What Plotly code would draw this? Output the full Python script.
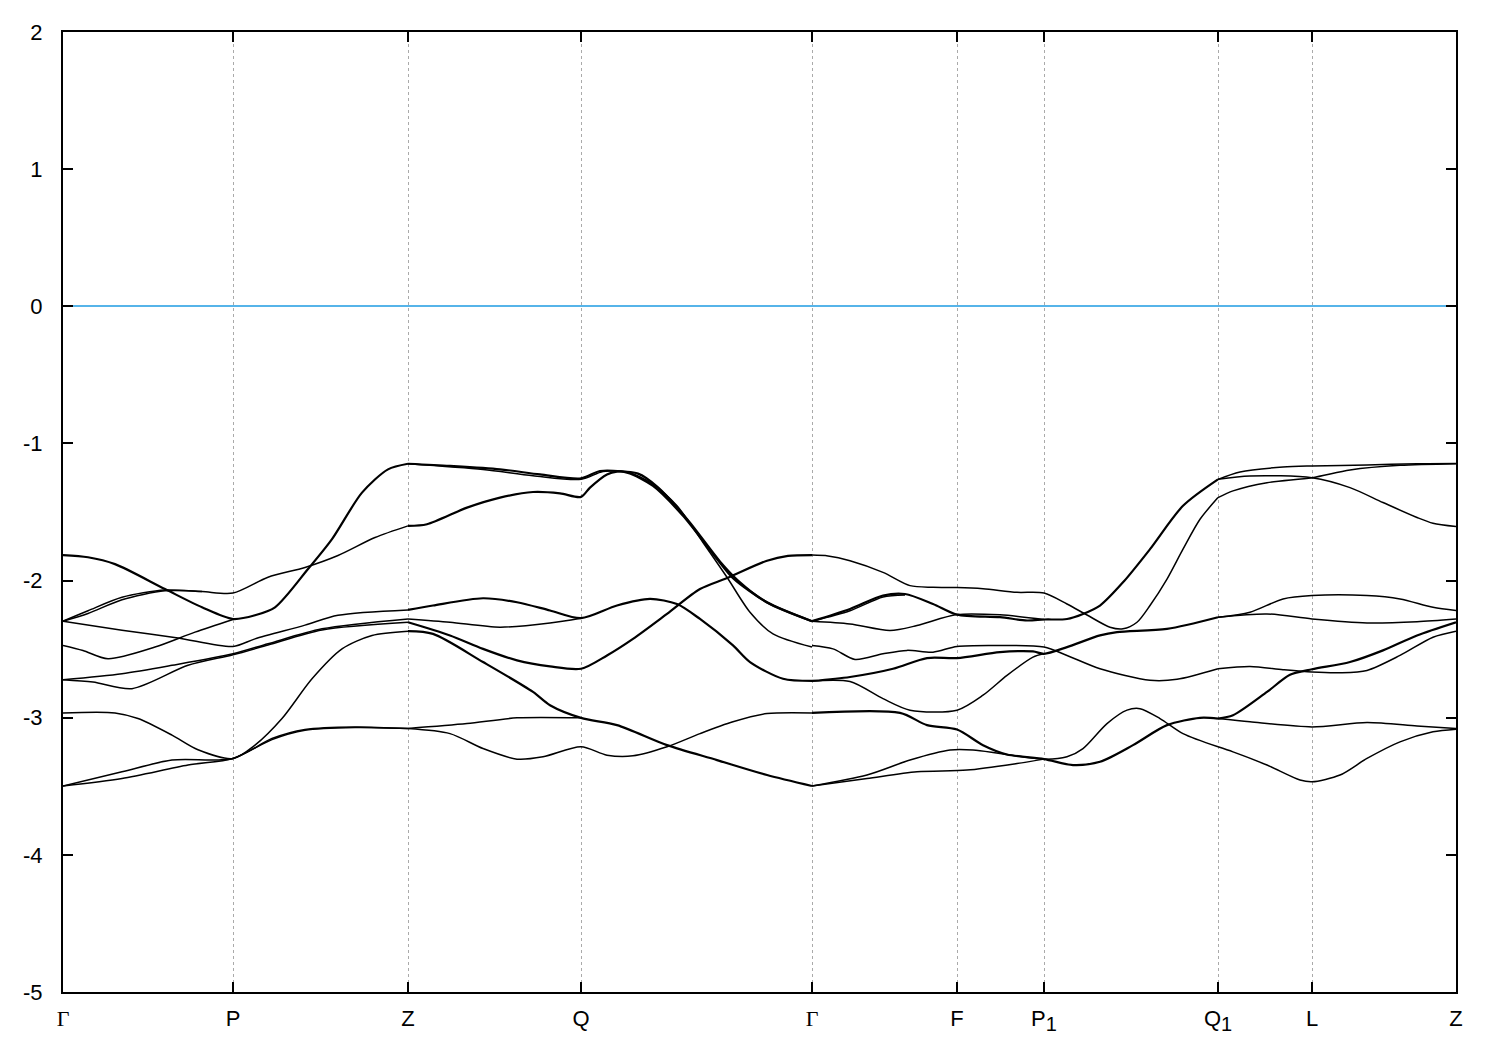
import plotly.graph_objects as go

# High-symmetry path
kpoint_labels = ["Γ", "P", "Z", "Q", "Γ", "F", "P<sub><span style=\"font-size:20px\">1</span></sub>",
                 "Q<sub><span style=\"font-size:20px\">1</span></sub>", "L", "Z"]
kpoint_pos = [0.0, 1.70, 3.45, 5.18, 7.49, 8.94, 9.81, 11.55, 12.49, 13.93]
energy_ticks = [-5, -4, -3, -2, -1, 0, 1, 2]
energy_tick_text = ["-5", "-4", "-3", "-2", "-1", "0", "1", "2"]

# ---- Γ - P - Z ----
c1_k = [0, 0.25, 0.52, 1.02, 1.39, 1.70, 1.92, 2.12, 2.45, 2.69, 2.99, 3.25, 3.45]
c1_e = [-1.814, -1.83, -1.880, -2.062, -2.195, -2.280, -2.253, -2.195, -1.916, -1.698, -1.359, -1.189, -1.148]
c2_k = [0, 0.25, 0.59, 1.02, 1.39, 1.70, 2.05, 2.42, 2.75, 3.12, 3.45]
c2_e = [-2.296, -2.22, -2.122, -2.069, -2.08, -2.091, -1.976, -1.904, -1.817, -1.686, -1.601]
c2b_k = [0, 0.25, 0.59, 1.02, 1.39]
c2b_e = [-2.296, -2.24, -2.140, -2.075, -2.08]
c3_k = [0, 0.59, 1.15, 1.70, 1.92, 2.42, 2.75, 3.45]
c3_e = [-2.296, -2.362, -2.418, -2.480, -2.425, -2.325, -2.253, -2.214]
c4_k = [0, 0.2, 0.45, 0.92, 1.32, 1.70]
c4_e = [-2.473, -2.51, -2.570, -2.485, -2.376, -2.284]
c5_k = [0, 0.59, 1.09, 1.70, 2.05, 2.59, 3.45]
c5_e = [-2.723, -2.679, -2.618, -2.534, -2.461, -2.352, -2.280]
c6_k = [0, 0.3, 0.69, 1.25, 1.70, 2.05, 2.59, 3.45]
c6_e = [-2.723, -2.74, -2.788, -2.618, -2.541, -2.470, -2.360, -2.304]
c7_k = [0, 0.52, 0.75, 1.09, 1.35, 1.70, 1.92, 2.19, 2.49, 2.79, 3.09, 3.45]
c7_e = [-2.965, -2.965, -3.006, -3.127, -3.234, -3.297, -3.200, -3.006, -2.716, -2.498, -2.400, -2.369]
c8a_k = [0, 0.59, 1.09, 1.70, 2.09, 2.42, 2.92, 3.45]
c8a_e = [-3.498, -3.394, -3.309, -3.297, -3.152, -3.086, -3.067, -3.079]
c8b_k = [0, 0.59, 1.25, 1.70, 2.09, 2.42, 2.92, 3.45]
c8b_e = [-3.498, -3.443, -3.345, -3.297, -3.160, -3.092, -3.072, -3.079]

# ---- Z - Q - Γ ----
d1_k = [3.45, 3.87, 4.37, 4.77, 5.18, 5.37, 5.64, 5.90, 6.20, 6.54, 6.70, 7.04, 7.49]
d1_e = [-1.148, -1.164, -1.189, -1.226, -1.255, -1.201, -1.213, -1.310, -1.528, -1.843, -1.982, -2.158, -2.296]
d2_k = [3.45, 4.20, 4.70, 5.18, 5.40, 5.64, 5.90, 6.14, 6.40, 6.64, 6.87, 7.10, 7.49]
d2_e = [-1.148, -1.190, -1.235, -1.262, -1.205, -1.206, -1.298, -1.455, -1.722, -1.976, -2.231, -2.389, -2.485]
d3_k = [3.45, 3.64, 4.04, 4.37, 4.70, 4.97, 5.18, 5.27, 5.44, 5.54, 5.75, 5.95, 6.25, 6.58, 6.75, 7.04, 7.49]
d3_e = [-1.601, -1.589, -1.468, -1.395, -1.354, -1.364, -1.390, -1.322, -1.226, -1.206, -1.220, -1.320, -1.560, -1.870, -2.000, -2.160, -2.296]
d4_k = [3.45, 3.70, 4.20, 4.54, 4.87, 5.18, 5.54, 5.87, 6.14, 6.37, 6.70, 6.87, 7.20, 7.49]
d4_e = [-2.214, -2.182, -2.129, -2.158, -2.218, -2.274, -2.182, -2.134, -2.171, -2.280, -2.473, -2.594, -2.716, -2.732]
d5_k = [3.45, 3.87, 4.37, 4.87, 5.18]
d5_e = [-2.280, -2.304, -2.340, -2.309, -2.274]
d6_k = [3.45, 3.87, 4.20, 4.54, 4.87, 5.18, 5.44, 5.70, 6.04, 6.37, 6.64, 7.04, 7.25, 7.49]
d6_e = [-2.304, -2.400, -2.498, -2.582, -2.626, -2.643, -2.546, -2.425, -2.243, -2.062, -1.982, -1.855, -1.820, -1.814]
d7_k = [3.45, 3.70, 4.20, 4.70, 4.87, 5.18, 5.54, 6.04, 6.54, 7.04, 7.49]
d7_e = [-2.369, -2.389, -2.594, -2.812, -2.909, -3.001, -3.054, -3.200, -3.309, -3.418, -3.498]
d8_k = [3.45, 4.04, 4.54, 5.18]
d8_e = [-3.079, -3.043, -3.001, -3.001]
d9_k = [3.45, 3.87, 4.20, 4.54, 4.80, 5.18, 5.44, 5.70, 6.04, 6.37, 6.70, 7.04, 7.49]
d9_e = [-3.079, -3.116, -3.225, -3.302, -3.285, -3.212, -3.273, -3.278, -3.212, -3.116, -3.030, -2.970, -2.965]

# ---- Γ - F - P1 - Q1 ----
e1_k = [7.49, 7.65, 7.87, 8.20, 8.47, 8.70, 8.94, 9.20, 9.54, 9.81, 10.04, 10.24, 10.47, 10.60, 10.74, 10.87, 11.04, 11.20, 11.37, 11.55]
e1_e = [-1.814, -1.820, -1.855, -1.940, -2.037, -2.049, -2.051, -2.060, -2.086, -2.091, -2.171, -2.251, -2.340, -2.352, -2.304, -2.182, -1.989, -1.771, -1.553, -1.395]
e2a_k = [7.49, 7.87, 8.20, 8.42, 8.70, 8.94, 9.37, 9.64, 9.81, 10.04, 10.20, 10.37, 10.60, 10.87, 11.20, 11.55]
e2a_e = [-2.296, -2.207, -2.109, -2.098, -2.171, -2.248, -2.267, -2.291, -2.284, -2.280, -2.243, -2.182, -2.013, -1.771, -1.455, -1.262]
e2b_k = [7.49, 7.87, 8.20, 8.42]
e2b_e = [-2.296, -2.220, -2.120, -2.105]
e3_k = [7.49, 7.87, 8.27, 8.54, 8.94, 9.37, 9.81]
e3_e = [-2.296, -2.316, -2.364, -2.328, -2.248, -2.250, -2.284]
e4_k = [7.49, 7.70, 7.92, 8.20, 8.44, 8.70, 8.94, 9.37, 9.81, 10.04, 10.37, 10.87, 11.14, 11.55]
e4_e = [-2.473, -2.498, -2.575, -2.534, -2.509, -2.522, -2.480, -2.473, -2.485, -2.546, -2.643, -2.727, -2.720, -2.643]
e5_k = [7.49, 7.87, 8.30, 8.64, 8.94, 9.37, 9.70, 9.81, 10.04, 10.37, 10.54, 11.04, 11.55]
e5_e = [-2.732, -2.703, -2.643, -2.565, -2.565, -2.522, -2.517, -2.534, -2.485, -2.400, -2.376, -2.352, -2.267]
e6_k = [7.49, 7.87, 8.20, 8.47, 8.94, 9.20, 9.44, 9.70, 9.81]
e6_e = [-2.732, -2.736, -2.861, -2.945, -2.945, -2.836, -2.691, -2.558, -2.534]
e7_k = [7.49, 8.37, 8.64, 8.94, 9.20, 9.44, 9.81, 10.10, 10.37, 10.70, 11.04, 11.37, 11.55]
e7_e = [-2.965, -2.965, -3.054, -3.086, -3.200, -3.268, -3.302, -3.345, -3.321, -3.200, -3.054, -3.001, -3.006]
e8_k = [7.49, 8.04, 8.47, 8.87, 9.10, 9.37, 9.81, 10.04, 10.20, 10.44, 10.64, 10.77, 10.97, 11.20, 11.55]
e8_e = [-3.498, -3.418, -3.309, -3.236, -3.236, -3.261, -3.302, -3.285, -3.225, -3.043, -2.945, -2.934, -3.006, -3.116, -3.212]
e9_k = [7.49, 8.04, 8.54, 9.04, 9.54, 9.81]
e9_e = [-3.498, -3.443, -3.394, -3.382, -3.334, -3.302]

# ---- Q1 - L - Z ----
f1_k = [11.55, 11.77, 12.20, 12.49, 13.04, 13.54, 13.93]
f1_e = [-1.262, -1.208, -1.172, -1.164, -1.157, -1.148, -1.146]
f2_k = [11.55, 11.87, 12.49, 12.87, 13.20, 13.54, 13.70, 13.93]
f2_e = [-1.262, -1.237, -1.250, -1.322, -1.431, -1.540, -1.582, -1.606]
f3_k = [11.55, 11.70, 12.04, 12.49, 12.87, 13.37, 13.93]
f3_e = [-1.395, -1.346, -1.286, -1.250, -1.194, -1.160, -1.148]
f4_k = [11.55, 11.87, 12.20, 12.49, 13.04, 13.37, 13.70, 13.93]
f4_e = [-2.267, -2.231, -2.134, -2.109, -2.109, -2.134, -2.195, -2.218]
f5_k = [11.55, 12.04, 12.49, 13.04, 13.54, 13.93]
f5_e = [-2.267, -2.243, -2.280, -2.309, -2.300, -2.280]
f6_k = [11.55, 11.87, 12.20, 12.49, 12.77, 13.04, 13.37, 13.70, 13.93]
f6_e = [-2.643, -2.626, -2.650, -2.667, -2.672, -2.655, -2.546, -2.413, -2.369]
f7_k = [11.55, 11.70, 12.04, 12.27, 12.49, 12.87, 13.20, 13.54, 13.93]
f7_e = [-3.006, -2.982, -2.812, -2.687, -2.647, -2.594, -2.509, -2.400, -2.304]
f8_k = [11.55, 11.87, 12.49, 13.04, 13.54, 13.93]
f8_e = [-3.006, -3.030, -3.067, -3.035, -3.060, -3.079]
f9_k = [11.55, 11.70, 12.04, 12.37, 12.49, 12.77, 13.04, 13.37, 13.70, 13.93]
f9_e = [-3.212, -3.249, -3.345, -3.454, -3.467, -3.418, -3.297, -3.176, -3.103, -3.084]

curves = [
    (c1_k, c1_e), (c2_k, c2_e), (c2b_k, c2b_e), (c3_k, c3_e), (c4_k, c4_e),
    (c5_k, c5_e), (c6_k, c6_e), (c7_k, c7_e), (c8a_k, c8a_e), (c8b_k, c8b_e),
    (d1_k, d1_e), (d2_k, d2_e), (d3_k, d3_e), (d4_k, d4_e), (d5_k, d5_e),
    (d6_k, d6_e), (d7_k, d7_e), (d8_k, d8_e), (d9_k, d9_e),
    (e1_k, e1_e), (e2a_k, e2a_e), (e2b_k, e2b_e), (e3_k, e3_e), (e4_k, e4_e),
    (e5_k, e5_e), (e6_k, e6_e), (e7_k, e7_e), (e8_k, e8_e), (e9_k, e9_e),
    (f1_k, f1_e), (f2_k, f2_e), (f3_k, f3_e), (f4_k, f4_e), (f5_k, f5_e),
    (f6_k, f6_e), (f7_k, f7_e), (f8_k, f8_e), (f9_k, f9_e),
]
thick = {0, 10, 12, 13, 15, 16, 20, 24, 26, 35}

fig = go.Figure()
for i, (kk, ee) in enumerate(curves):
    fig.add_trace(go.Scatter(
        x=kk, y=ee, mode="lines",
        line=dict(color="black", width=2.2 if i in thick else 1.5, shape="spline", smoothing=0.8),
        showlegend=False, hoverinfo="skip"))

tick_text = []
for lab in kpoint_labels:
    if lab == "Γ":
        tick_text.append('<span style="font-family:Liberation Serif">Γ</span>')
    else:
        tick_text.append(lab)

fig.update_layout(
    width=1492, height=1042,
    margin=dict(l=55, r=44, t=20, b=58),
    paper_bgcolor="white", plot_bgcolor="white",
    font=dict(family="Liberation Sans, Arial, sans-serif", size=22, color="black"),
    xaxis=dict(
        range=[kpoint_pos[0], kpoint_pos[-1]],
        tickmode="array", tickvals=kpoint_pos, ticktext=tick_text,
        ticks="inside", ticklen=10, tickwidth=1.5, tickcolor="black",
        showgrid=True, gridcolor="#aaaaaa", griddash="3px,3px", gridwidth=1,
        showline=True, linecolor="black", linewidth=2, mirror="ticks",
        zeroline=False, tickfont=dict(size=22), ticklabelstandoff=6,
    ),
    yaxis=dict(
        range=[-5, 2],
        tickmode="array", tickvals=energy_ticks, ticktext=energy_tick_text,
        ticks="inside", ticklen=10, tickwidth=1.5, tickcolor="black",
        showgrid=False,
        showline=True, linecolor="black", linewidth=2, mirror="ticks",
        zeroline=True, zerolinecolor="#56B4E9", zerolinewidth=2,
        tickfont=dict(size=22), ticklabelstandoff=14,
    ),
)

fig.write_html("out.html")
